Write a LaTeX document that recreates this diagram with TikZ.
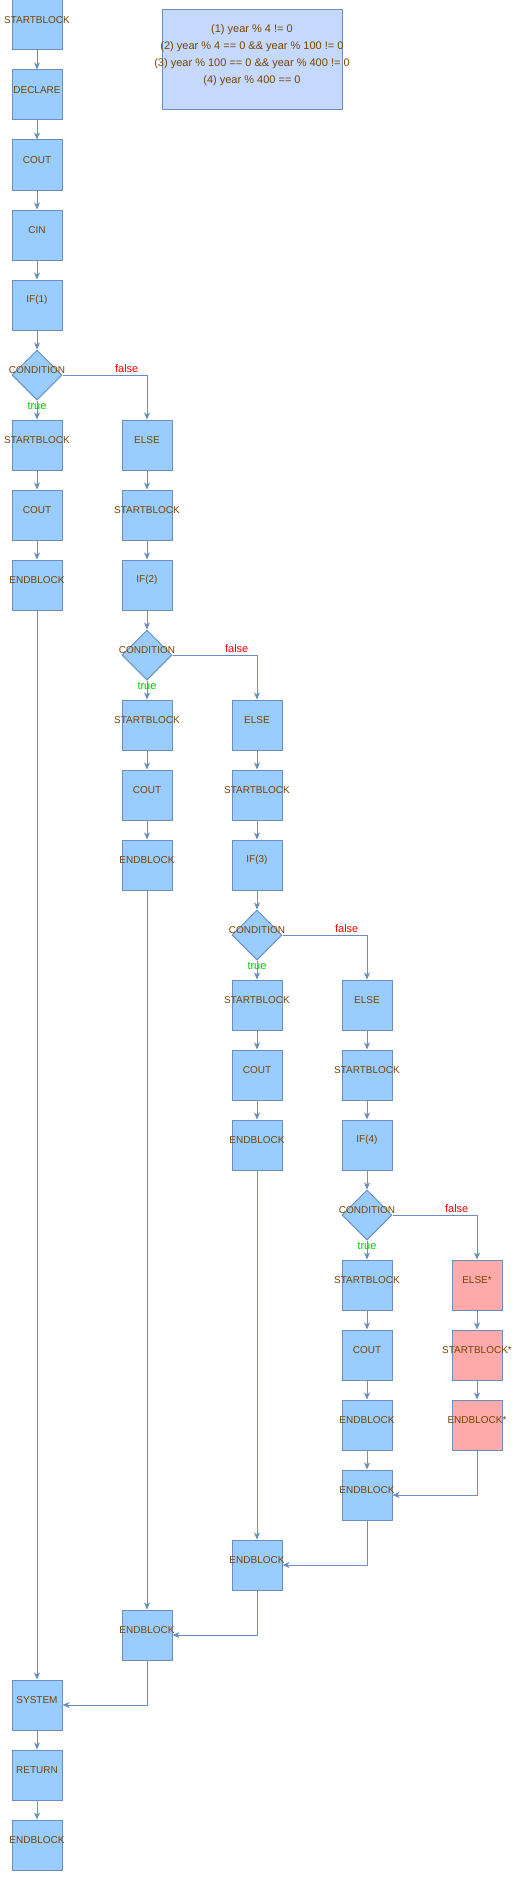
\documentclass[tikz,border=0pt]{standalone}
\usepackage{fontspec}
\setmainfont{Liberation Sans}
\usetikzlibrary{arrows.meta,shapes.geometric}
\definecolor{edgec}{HTML}{6C8EBF}
\definecolor{boxc}{HTML}{99CCFF}
\definecolor{pinkc}{HTML}{FFAAAA}
\definecolor{notec}{HTML}{C5D9FF}
\definecolor{txtc}{HTML}{774400}
\definecolor{truec}{HTML}{00CC00}
\definecolor{falsec}{HTML}{FF0000}
\tikzset{
 bxbase/.style={draw=edgec, line width=1pt, inner sep=0pt, minimum width=50pt, minimum height=50pt},
 lbl/.style={text=txtc, font=\fontsize{10}{12}\selectfont, yshift=5pt, inner sep=0pt},
 blk/.style={bxbase, fill=boxc, label={[lbl]center:#1}},
 pblk/.style={bxbase, fill=pinkc, label={[lbl]center:#1}},
 cnd/.style={bxbase, diamond, aspect=1, fill=boxc, label={[lbl]center:CONDITION}},
 ar/.style={draw=edgec, line width=1pt, -{Stealth[length=7pt,width=6pt,inset=2pt]}},
 tlab/.style={text=truec, font=\fontsize{11}{13}\selectfont, inner sep=0pt},
 flab/.style={text=falsec, font=\fontsize{11}{13}\selectfont, inner sep=0pt},
}
\begin{document}
\begin{tikzpicture}[x=1pt,y=-1pt]
\useasboundingbox (0,0) rectangle (518,1892);
% note
\node[draw=edgec, fill=notec, line width=1pt, minimum width=180pt, minimum height=100pt, inner sep=0pt] (note) at (252,60) {};
\node[text=txtc, font=\fontsize{11}{17}\selectfont, align=center, inner sep=0pt] (notetxt) at (252,55.5)
 {(1) year \% 4 != 0\\(2) year \% 4 == 0 \&\& year \% 100 != 0\\(3) year \% 100 == 0 \&\& year \% 400 != 0\\(4) year \% 400 == 0};
% column 0
\node[blk=STARTBLOCK] (a0) at (37,25) {};
\node[blk=DECLARE] (a1) at (37,95) {};
\node[blk=COUT] (a2) at (37,165) {};
\node[blk=CIN] (a3) at (37,235) {};
\node[blk=IF(1)] (a4) at (37,305) {};
\node[cnd] (c1) at (37,375) {};
\node[blk=STARTBLOCK] (a6) at (37,445) {};
\node[blk=COUT] (a7) at (37,515) {};
\node[blk=ENDBLOCK] (a8) at (37,585) {};
\node[blk=SYSTEM] (sys) at (37,1705) {};
\node[blk=RETURN] (ret) at (37,1775) {};
\node[blk=ENDBLOCK] (fin) at (37,1845) {};
% column 1
\node[blk=ELSE] (b6) at (147,445) {};
\node[blk=STARTBLOCK] (b7) at (147,515) {};
\node[blk=IF(2)] (b8) at (147,585) {};
\node[cnd] (c2) at (147,655) {};
\node[blk=STARTBLOCK] (b10) at (147,725) {};
\node[blk=COUT] (b11) at (147,795) {};
\node[blk=ENDBLOCK] (b12) at (147,865) {};
\node[blk=ENDBLOCK] (b23) at (147,1635) {};
% column 2
\node[blk=ELSE] (d10) at (257,725) {};
\node[blk=STARTBLOCK] (d11) at (257,795) {};
\node[blk=IF(3)] (d12) at (257,865) {};
\node[cnd] (c3) at (257,935) {};
\node[blk=STARTBLOCK] (d14) at (257,1005) {};
\node[blk=COUT] (d15) at (257,1075) {};
\node[blk=ENDBLOCK] (d16) at (257,1145) {};
\node[blk=ENDBLOCK] (d22) at (257,1565) {};
% column 3
\node[blk=ELSE] (e14) at (367,1005) {};
\node[blk=STARTBLOCK] (e15) at (367,1075) {};
\node[blk=IF(4)] (e16) at (367,1145) {};
\node[cnd] (c4) at (367,1215) {};
\node[blk=STARTBLOCK] (e18) at (367,1285) {};
\node[blk=COUT] (e19) at (367,1355) {};
\node[blk=ENDBLOCK] (e20) at (367,1425) {};
\node[blk=ENDBLOCK] (e21) at (367,1495) {};
% column 4
\node[pblk=ELSE*] (f18) at (477,1285) {};
\node[pblk=STARTBLOCK*] (f19) at (477,1355) {};
\node[pblk=ENDBLOCK*] (f20) at (477,1425) {};
% edges column 0
\draw[ar] (a0) -- (a1);
\draw[ar] (a1) -- (a2);
\draw[ar] (a2) -- (a3);
\draw[ar] (a3) -- (a4);
\draw[ar] (a4) -- (c1);
\draw[ar] (c1) -- (a6) node[tlab, at start, yshift=-5pt] {true};
\draw[ar] (c1.east) -| (b6.north) node[flab, pos=0.38, yshift=6pt] {false};
\draw[ar] (a6) -- (a7);
\draw[ar] (a7) -- (a8);
\draw[ar] (a8) -- (sys);
\draw[ar] (sys) -- (ret);
\draw[ar] (ret) -- (fin);
% column 1
\draw[ar] (b6) -- (b7);
\draw[ar] (b7) -- (b8);
\draw[ar] (b8) -- (c2);
\draw[ar] (c2) -- (b10) node[tlab, at start, yshift=-5pt] {true};
\draw[ar] (c2.east) -| (d10.north) node[flab, pos=0.38, yshift=6pt] {false};
\draw[ar] (b10) -- (b11);
\draw[ar] (b11) -- (b12);
\draw[ar] (b12) -- (b23);
\draw[ar] (b23.south) |- (sys.east);
% column 2
\draw[ar] (d10) -- (d11);
\draw[ar] (d11) -- (d12);
\draw[ar] (d12) -- (c3);
\draw[ar] (c3) -- (d14) node[tlab, at start, yshift=-5pt] {true};
\draw[ar] (c3.east) -| (e14.north) node[flab, pos=0.38, yshift=6pt] {false};
\draw[ar] (d14) -- (d15);
\draw[ar] (d15) -- (d16);
\draw[ar] (d16) -- (d22);
\draw[ar] (d22.south) |- (b23.east);
% column 3
\draw[ar] (e14) -- (e15);
\draw[ar] (e15) -- (e16);
\draw[ar] (e16) -- (c4);
\draw[ar] (c4) -- (e18) node[tlab, at start, yshift=-5pt] {true};
\draw[ar] (c4.east) -| (f18.north) node[flab, pos=0.38, yshift=6pt] {false};
\draw[ar] (e18) -- (e19);
\draw[ar] (e19) -- (e20);
\draw[ar] (e20) -- (e21);
\draw[ar] (e21.south) |- (d22.east);
% column 4
\draw[ar] (f18) -- (f19);
\draw[ar] (f19) -- (f20);
\draw[ar] (f20.south) |- (e21.east);
\end{tikzpicture}
\end{document}
